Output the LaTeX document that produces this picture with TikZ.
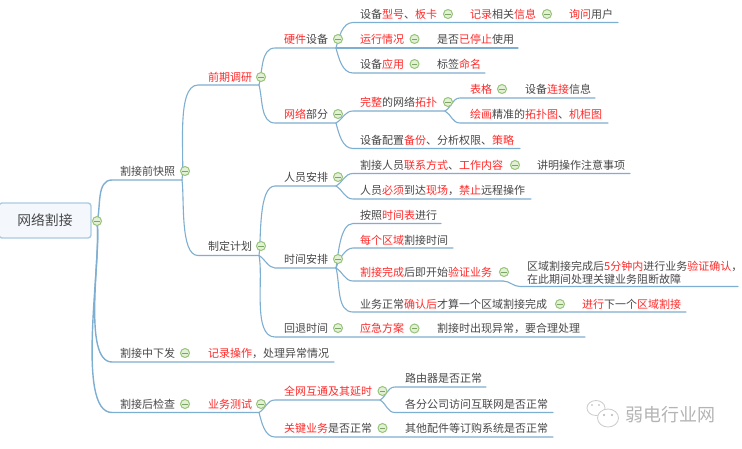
\documentclass[tikz,border=0pt]{standalone}
\usepackage{fontspec}
\setmainfont{Noto Sans CJK SC}
\definecolor{inkgray}{HTML}{484848}
\definecolor{hot}{HTML}{FF2A2A}
\definecolor{wire}{HTML}{7FAFD0}
\definecolor{foldline}{HTML}{98C47A}
\definecolor{foldfill}{HTML}{E2F0D6}
\definecolor{foldbar}{HTML}{7FA566}
\definecolor{wm}{HTML}{B4B4B4}
\definecolor{rootfill}{HTML}{F4F8FD}
\definecolor{rootedge}{HTML}{A9CBE2}
\newcommand\R[1]{\textcolor{hot}{#1}}
\tikzset{
  txt/.style={anchor=west,inner sep=0pt,text=inkgray,font=\fontsize{11}{13}\selectfont},
  wirepath/.style={draw=wire,line width=1.1pt,line cap=round},
  up/.style={out=75,in=180,looseness=.9},
  dn/.style={out=-75,in=180,looseness=.9},
  fold/.style={circle,draw=foldline,fill=foldfill,line width=1pt,minimum size=9pt,inner sep=0pt,
    path picture={\draw[foldbar,line width=.9pt] ([xshift=-2.6pt]path picture bounding box.center)--([xshift=2.6pt]path picture bounding box.center);}},
  rootbox/.style={draw=rootedge,fill=rootfill,rounded corners=3pt,line width=1.4pt,minimum width=92pt,minimum height=35pt,inner sep=0pt,text=inkgray,font=\fontsize{13.8}{15}\selectfont},
}
\newcommand\tp[4]{\node[txt] (#1) at (#2,#3) {#4};}
\newcommand\fd[3]{\node[fold] (#1) at (#2,#3) {};}
\newcommand\pt[3]{\coordinate (#1) at (#2,#3);}
\begin{document}
\begin{tikzpicture}[x=1pt,y=-1pt]
\useasboundingbox[fill=white] (0,0) rectangle (742,448);
% junction and line coordinates
\pt{j0}{97}{222}
\pt{a1s}{112}{180}\pt{a1e}{182}{180}
\pt{a2s}{112}{362}\pt{a2e}{185}{362}
\pt{a3s}{112}{412.5}\pt{a3e}{259}{412.5}
\pt{b1s}{198}{85}\pt{b1e}{259}{85}
\pt{b2s}{198}{255.5}\pt{b2e}{259}{255.5}
\pt{c1s}{275}{48}\pt{c1e}{336}{48}
\pt{c2s}{275}{123}\pt{c2e}{336}{123}
\pt{c3s}{275}{186}\pt{c3e}{336}{186}
\pt{c4s}{275}{268}\pt{c4e}{336}{268}
\pt{c5s}{275}{337}\pt{c5e}{585}{337}
\pt{a2x}{334}{362}
\pt{e1s}{353}{22.5}\pt{e1e}{618}{22.5}
\pt{e2s}{353}{48}\pt{e2e}{518}{48}
\pt{e3s}{353}{73}\pt{e3e}{485}{73}
\pt{e4s}{353}{111}\pt{e4e}{445}{111}
\pt{e5s}{353}{148.5}\pt{e5e}{520}{148.5}
\pt{e6s}{353}{173.5}\pt{e6e}{630}{173.5}
\pt{e7s}{353}{199}\pt{e7e}{531}{199}
\pt{e8s}{353}{223.5}\pt{e8e}{441}{223.5}
\pt{e9s}{353}{248}\pt{e9e}{453}{248}
\pt{e10s}{353}{281}\pt{e10e}{503}{281}
\pt{e11s}{353}{312}\pt{e11e}{686}{312}
\pt{f1s}{460}{98}\pt{f1e}{595}{98}
\pt{f2s}{460}{123}\pt{f2e}{608}{123}
\pt{f3s}{520}{286.5}\pt{f3e}{738}{286.5}
\pt{g1s}{275}{400}\pt{g1e}{380}{400}
\pt{g2s}{275}{437}\pt{g2e}{553}{437}
\pt{h1s}{395}{387}\pt{h1e}{486}{387}
\pt{h2s}{395}{412.5}\pt{h2e}{553}{412.5}
% connectors
\draw[wirepath,line width=1.4pt] (j0) to[up] (a1s) -- (a1e);
\draw[wirepath,line width=1.4pt] (j0) to[out=-82,in=180,looseness=.55] (a2s) -- (a2e) -- (a2x);
\draw[wirepath,line width=1.4pt] (j0) to[out=-82,in=180,looseness=.5] (a3s) -- (a3e);
\draw[wirepath] (a1e) to[out=82,in=180,looseness=.6] (b1s) -- (b1e);
\draw[wirepath] (a1e) to[out=-82,in=180,looseness=.6] (b2s) -- (b2e);
\draw[wirepath] (b1e) to[up] (c1s) -- (c1e);
\draw[wirepath] (b1e) to[dn] (c2s) -- (c2e);
\draw[wirepath] (b2e) to[out=82,in=180,looseness=.6] (c3s) -- (c3e);
\draw[wirepath] (b2e) to[out=-30,in=180,looseness=.8] (c4s) -- (c4e);
\draw[wirepath] (b2e) to[out=-78,in=180,looseness=.7] (c5s) -- (c5e);
\draw[wirepath] (c1e) to[up] (e1s) -- (e1e);
\draw[wirepath] (c1e) -- (e2s) -- (e2e);
\draw[wirepath] (c1e) to[dn] (e3s) -- (e3e);
\draw[wirepath] (c2e) to[out=30,in=180] (e4s) -- (e4e);
\draw[wirepath] (c2e) to[dn] (e5s) -- (e5e);
\draw[wirepath] (c3e) to[out=30,in=180] (e6s) -- (e6e);
\draw[wirepath] (c3e) to[out=-30,in=180] (e7s) -- (e7e);
\draw[wirepath] (c4e) to[out=80,in=180,looseness=.7] (e8s) -- (e8e);
\draw[wirepath] (c4e) to[out=70,in=180,looseness=.8] (e9s) -- (e9e);
\draw[wirepath] (c4e) to[out=-30,in=180] (e10s) -- (e10e);
\draw[wirepath] (c4e) to[dn] (e11s) -- (e11e);
\draw[wirepath] (e4e) to[out=30,in=180] (f1s) -- (f1e);
\draw[wirepath] (e4e) to[out=-30,in=180] (f2s) -- (f2e);
\draw[wirepath] (e10e) to[out=0,in=180] (f3s) -- (f3e);
\draw[wirepath] (a3e) to[out=30,in=180] (g1s) -- (g1e);
\draw[wirepath] (a3e) to[dn] (g2s) -- (g2e);
\draw[wirepath] (g1e) to[out=30,in=180] (h1s) -- (h1e);
\draw[wirepath] (g1e) to[out=-30,in=180] (h2s) -- (h2e);
% root
\node[rootbox] (root) at (45,220.5) {网络割接};
% text
\tp{n1}{120}{171}{割接前快照}
\tp{n2}{120}{353}{割接中下发}
\tp{n3}{120}{404}{割接后检查}
\tp{n4}{208}{77}{\R{前期调研}}
\tp{n5}{208}{246}{制定计划}
\tp{n6}{208}{353}{\R{记录操作}，处理异常情况}
\tp{n7}{208}{404}{\R{业务测试}}
\tp{n8}{284}{39}{\R{硬件}设备}
\tp{n9}{284}{114}{\R{网络}部分}
\tp{n10}{284}{177}{人员安排}
\tp{n11}{284}{259}{时间安排}
\tp{n12}{284}{328.5}{回退时间}
\tp{n13}{284}{391}{\R{全网互通及其延时}}
\tp{n14}{284}{428}{\R{关键业务}是否正常}
\tp{n15}{360}{14}{设备\R{型号}、\R{板卡}}
\tp{n16}{470}{14}{\R{记录}相关\R{信息}}
\tp{n17}{569}{14}{\R{询问}用户}
\tp{n18}{360}{39}{\R{运行情况}}
\tp{n19}{437}{39}{是否\R{已停止}使用}
\tp{n20}{360}{64}{设备\R{应用}}
\tp{n21}{437}{64}{标签\R{命名}}
\tp{n22}{360}{102}{\R{完整}的网络\R{拓扑}}
\tp{n23}{470}{89}{\R{表格}}
\tp{n24}{525}{89}{设备\R{连接}信息}
\tp{n25}{470}{114}{\R{绘画}精准的\R{拓扑图}、\R{机柜图}}
\tp{n26}{360}{140}{设备配置\R{备份}、分析权限、\R{策略}}
\tp{n27}{360}{165}{割接人员\R{联系方式}、\R{工作内容}}
\tp{n28}{537}{165}{讲明操作注意事项}
\tp{n29}{360}{190}{人员\R{必须}到达\R{现场}，\R{禁止}远程操作}
\tp{n30}{360}{215}{按照\R{时间表}进行}
\tp{n31}{360}{240}{\R{每个区域}割接时间}
\tp{n32}{360}{272}{\R{割接完成}后即开始\R{验证业务}}
\node[txt,align=left] (n33) at (527,272.5) {区域割接完成后\R{5分钟内}进行业务\R{验证确认}，\\在此期间处理关键业务阻断故障};
\tp{n34}{360}{304}{业务正常\R{确认后}才算一个区域割接完成}
\tp{n35}{582}{304}{\R{进行}下一个\R{区域割接}}
\tp{n36}{360}{328.5}{\R{应急方案}}
\tp{n37}{437}{328.5}{割接时出现异常，要合理处理}
\tp{n38}{405}{378}{路由器是否正常}
\tp{n39}{405}{404}{各分公司访问互联网是否正常}
\tp{n40}{405}{428}{其他配件等订购系统是否正常}
% fold marks
\fd{m0}{97}{221}\fd{m1}{185}{171}\fd{m2}{185}{353}\fd{m3}{185}{404}
\fd{m4}{261}{77}\fd{m5}{261}{246}\fd{m6}{261}{404}
\fd{m7}{338}{39}\fd{m8}{338}{114}\fd{m9}{338}{177}\fd{m10}{338}{259}\fd{m11}{338}{328}
\fd{m12}{382.5}{391}\fd{m13}{382.5}{428}
\fd{m14}{448}{14}\fd{m15}{547}{14}\fd{m16}{414.5}{39}\fd{m17}{414.5}{64}
\fd{m18}{448}{102}\fd{m19}{502}{89}\fd{m20}{515}{165}\fd{m21}{504}{272}\fd{m22}{560}{304}\fd{m23}{414.5}{328.5}
% watermark
\begin{scope}[draw=wm!70,line width=.8pt]
\draw[fill=white] (596,408) ellipse (9pt and 7.5pt);
\draw[fill=white] (608,418) ellipse (10.5pt and 9pt);
\fill[wm] (604,415) circle (1.1pt) (612,415) circle (1.1pt);
\fill[wm] (592,405) circle (.9pt) (599,405) circle (.9pt);
\end{scope}
\node[anchor=west,inner sep=0pt,text=wm,font=\fontsize{18}{20}\selectfont] (mark) at (625,415) {弱电行业网};
\end{tikzpicture}
\end{document}
